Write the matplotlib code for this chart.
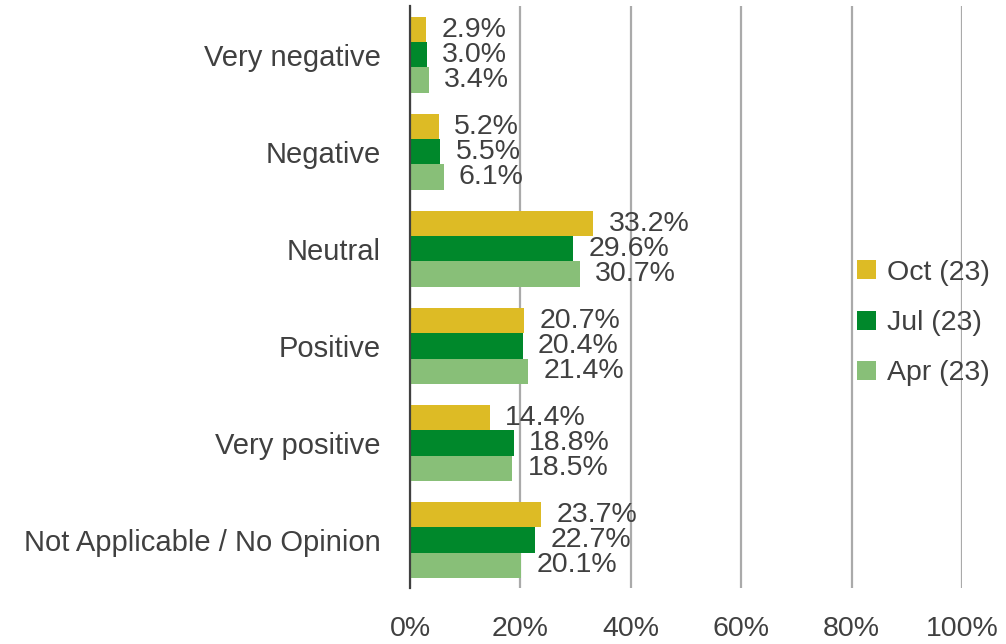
import matplotlib.pyplot as plt
import numpy as np

plt.rcParams['font.family'] = ['Liberation Sans', 'DejaVu Sans']

categories = ['Very negative', 'Negative', 'Neutral', 'Positive', 'Very positive',
              'Not Applicable / No Opinion']
oct_23 = [2.9, 5.2, 33.2, 20.7, 14.4, 23.7]
jul_23 = [3.0, 5.5, 29.6, 20.4, 18.8, 22.7]
apr_23 = [3.4, 6.1, 30.7, 21.4, 18.5, 20.1]
series_names = ['Oct (23)', 'Jul (23)', 'Apr (23)']
colors = ['#DDBB25', '#00882B', '#88BF78']
text_color = '#404040'
fs = 20.5

fig = plt.figure(figsize=(10.06, 6.44), dpi=100)
ax = fig.add_axes([0.4076, 0.0862, 0.5487, 0.904])

y = np.arange(len(categories))
h = 0.26
for k, (vals, name, col) in enumerate(zip([oct_23, jul_23, apr_23], series_names, colors)):
    pos = y + (k - 1) * h
    ax.barh(pos, vals, height=h, color=col, label=name, zorder=2)
    for p, v in zip(pos, vals):
        ax.annotate(f'{v:.1f}%', (v, p), xytext=(11, 0), textcoords='offset points',
                    va='center', ha='left', fontsize=fs, color=text_color, zorder=3)

ax.set_xlim(0, 100)
ax.set_ylim(len(categories) - 0.5, -0.5)
ax.set_yticks(y)
ax.set_yticklabels(categories, fontsize=21)
ax.set_xticks(range(0, 101, 20))
ax.set_xticklabels([f'{t}%' for t in range(0, 101, 20)])
ax.tick_params(axis='both', length=0, labelcolor=text_color)
ax.tick_params(axis='x', pad=20, labelsize=fs)
ax.tick_params(axis='y', pad=21)
ax.xaxis.grid(True, color='#AAAAAA', linewidth=1.6, zorder=0)
ax.set_axisbelow(True)
for s in ['top', 'right', 'bottom']:
    ax.spines[s].set_visible(False)
ax.spines['left'].set_color('#404040')
ax.spines['left'].set_linewidth(1.6)
ax.spines['left'].set_zorder(4)

leg = ax.legend(loc='center left', bbox_to_anchor=(0.81, 0.456), frameon=False,
                fontsize=fs, handlelength=0.65, handleheight=0.65, handletextpad=0.4,
                labelspacing=0.85, borderaxespad=0, borderpad=0)
for t in leg.get_texts():
    t.set_color(text_color)

fig.savefig('out.png', dpi=100)
